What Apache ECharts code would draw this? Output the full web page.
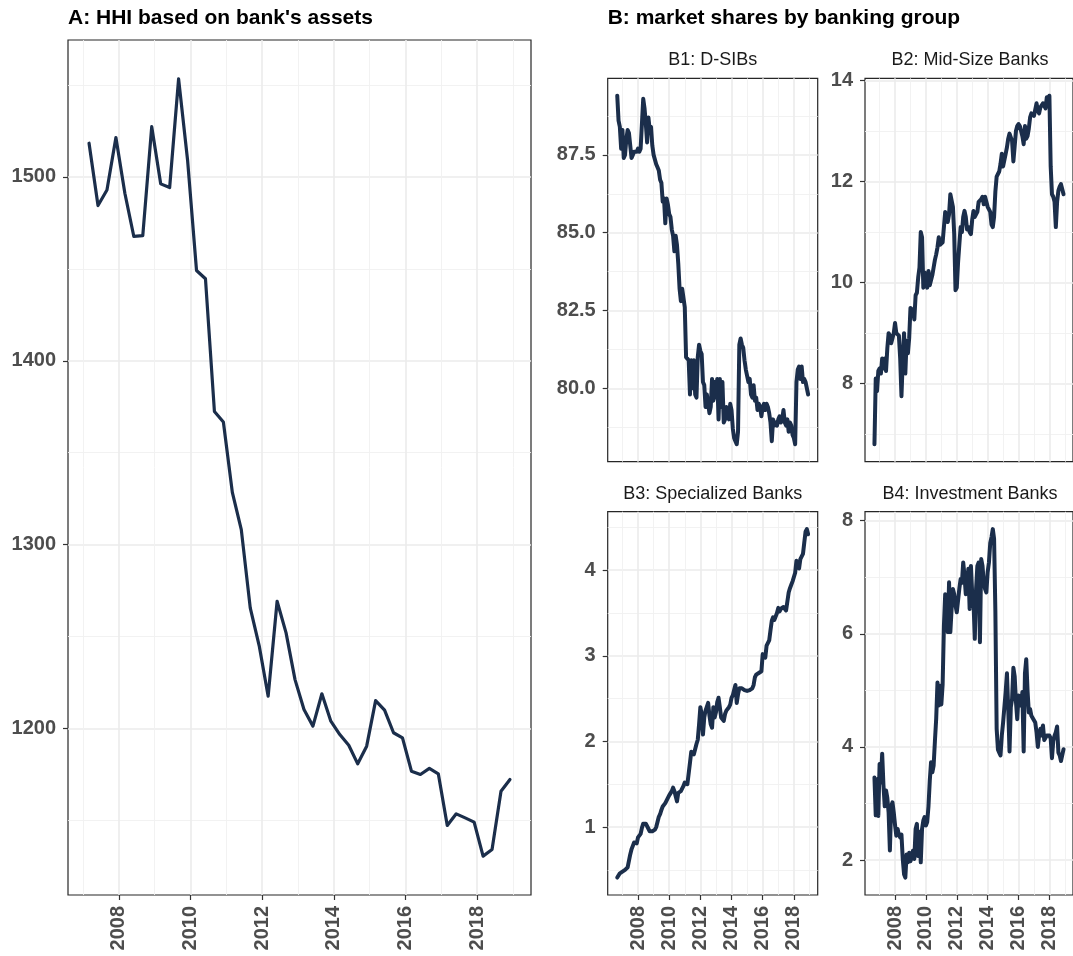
<!DOCTYPE html>
<html><head><meta charset="utf-8">
<script src="https://cdn.jsdelivr.net/npm/echarts@6/dist/echarts.min.js"></script>
<style>html,body{margin:0;padding:0;background:#fff}#c{width:1073px;height:956px}</style>
</head><body><div id="c"></div>
<script>
// ---------- DATA ----------
// Panel A: HHI, quarterly, first observation March 2007
const hhiStart = [2007, 3];
const hhiStepMonths = 3;
const hhiValues = [1518.3,1484.4,1492.9,1521.4,1491.1,1467.6,1468.0,1527.3,1496.2,1494.2,1553.3,1509.2,1449.1,1444.6,1372.4,1366.7,1328.4,1308.2,1265.6,1245.0,1217.6,1269.2,1252.0,1226.6,1210.3,1201.3,1218.9,1204.0,1196.7,1190.9,1180.8,1190.4,1215.2,1210.0,1197.7,1194.9,1176.8,1175.0,1178.3,1175.4,1147.3,1153.6,1151.4,1149.1,1130.6,1134.2,1165.9,1172.3];

// Panel B: market shares, monthly, first observation September 2006
const sharesStart = [2006, 9];
const sharesStepMonths = 1;
const dsibValues = [89.4,88.6,88.4,87.7,88.3,87.4,87.5,88.0,88.3,88.2,
87.8,87.4,87.5,87.6,87.6,87.6,87.7,87.6,87.7,88.5,
89.3,89.0,88.5,87.9,88.7,88.3,88.4,87.8,87.5,87.5,
87.2,87.1,87.0,86.7,86.6,86.0,86.1,85.3,86.1,85.9,
85.6,85.5,85.1,84.9,84.4,84.9,84.6,84.0,83.2,82.8,
83.2,82.9,82.6,81.0,81.0,80.9,79.8,80.9,80.0,80.9,
79.8,79.7,81.0,81.4,81.2,81.1,80.2,80.1,79.4,79.8,
79.5,79.2,79.4,80.3,79.6,80.2,79.7,80.3,79.0,80.3,
79.4,80.2,78.9,79.0,79.4,79.2,79.0,79.5,79.3,78.7,
78.4,78.3,78.2,78.6,81.4,81.6,81.4,81.3,80.9,80.6,
80.4,80.2,80.3,79.8,79.7,80.1,79.6,79.7,79.3,79.5,
79.4,79.1,79.4,79.5,79.3,79.5,79.4,79.2,78.9,78.3,
79.0,78.8,78.9,78.8,79.0,79.1,78.9,79.0,79.3,78.9,
78.8,79.0,78.6,78.9,78.8,78.5,78.4,78.2,80.2,80.6,
80.7,80.3,80.7,80.2,80.3,80.2,80.2,79.8];
const midSizeValues = [6.8,8.1,7.85,8.25,8.3,8.2,8.5,8.3,8.5,8.25,
8.7,9.0,8.95,8.8,8.9,9.0,9.2,9.0,9.0,8.95,
8.5,7.75,8.45,9.0,8.2,8.85,8.6,8.9,9.5,9.5,
9.45,9.27,9.75,9.8,10.1,10.3,11.0,10.9,9.9,10.2,
10.0,9.9,10.23,9.95,9.95,10.15,10.3,10.45,10.56,10.7,
10.9,10.75,10.75,10.8,11.1,11.4,11.3,11.2,11.35,11.75,
11.75,11.5,10.96,9.85,9.9,10.4,10.76,11.1,11.0,11.3,
11.42,11.3,11.05,11.1,11.0,10.96,11.25,11.42,11.3,11.3,
11.4,11.6,11.6,11.65,11.7,11.55,11.7,11.6,11.5,11.5,
11.4,11.15,11.1,11.3,11.8,12.1,12.15,12.2,12.35,12.55,
12.3,12.3,12.55,12.68,12.85,12.95,12.95,12.8,12.4,12.7,
13.0,13.1,13.14,13.1,13.0,12.9,12.74,13.1,12.85,12.9,
13.05,13.27,13.35,13.35,13.3,13.27,13.55,13.4,13.35,13.47,
13.45,13.55,13.55,13.45,13.67,13.62,13.7,12.3,11.75,11.7,
11.6,11.1,11.6,11.82,11.9,11.95,11.85,11.75];
const specializedValues = [0.41,0.43,0.46,0.47,0.48,0.49,0.50,0.51,0.53,0.54,
0.68,0.74,0.78,0.82,0.84,0.81,0.88,0.90,0.92,0.99,
1.04,1.06,1.04,1.02,0.98,0.95,0.95,0.95,0.96,0.97,
1.00,1.06,1.12,1.15,1.20,1.24,1.25,1.28,1.30,1.34,
1.37,1.38,1.42,1.46,1.42,1.36,1.30,1.40,1.40,1.42,
1.44,1.48,1.52,1.50,1.50,1.52,1.75,1.88,1.87,1.85,
1.85,1.97,2.02,2.20,2.40,2.32,2.08,2.28,2.36,2.38,
2.45,2.30,2.20,2.16,2.40,2.28,2.34,2.46,2.51,2.40,
2.28,2.26,2.24,2.32,2.36,2.38,2.40,2.43,2.51,2.54,
2.60,2.66,2.45,2.55,2.62,2.63,2.62,2.61,2.60,2.59,
2.59,2.59,2.60,2.60,2.62,2.66,2.75,2.78,2.79,2.80,
2.79,2.82,3.02,3.04,2.98,3.12,3.12,3.18,3.30,3.41,
3.45,3.42,3.43,3.50,3.56,3.52,3.55,3.56,3.57,3.58,
3.53,3.55,3.74,3.79,3.83,3.87,3.89,3.97,4.11,4.07,
4.02,4.13,4.15,4.19,4.32,4.45,4.48,4.42];
const investmentValues = [3.46,2.79,3.43,2.78,3.70,3.37,3.88,3.32,2.95,3.23,
3.10,2.84,2.17,2.95,3.02,2.84,2.62,2.43,2.55,2.45,
2.40,2.45,2.02,1.75,1.69,2.10,1.96,2.13,1.98,2.05,
2.17,2.02,2.55,2.64,2.07,2.50,1.96,2.55,2.70,2.76,
2.61,2.67,2.95,3.40,3.73,3.55,3.67,4.10,4.50,5.14,
4.73,5.08,4.75,5.10,6.14,6.70,6.30,6.03,6.91,6.03,
6.45,6.79,6.70,6.50,6.38,6.38,6.80,6.97,6.90,7.26,
7.03,6.70,6.90,7.15,6.44,7.20,6.70,6.56,5.91,6.79,
7.20,7.26,5.85,7.32,7.20,6.90,6.79,6.73,7.09,7.26,
7.60,7.71,7.85,7.68,6.40,4.32,3.95,3.90,3.85,4.20,
4.43,4.46,4.97,5.30,4.67,3.92,4.70,4.85,5.40,5.25,
4.80,4.49,4.91,4.80,4.73,4.97,3.92,5.30,5.55,5.00,
4.61,4.67,4.55,4.52,4.47,4.43,4.26,4.00,4.20,4.32,
4.20,4.38,4.12,4.15,4.20,4.17,4.20,4.15,3.80,4.10,
4.20,4.26,4.36,3.90,3.85,3.75,3.78,3.96];

// tick labels
const xMajorTicks = [2008, 2010, 2012, 2014, 2016, 2018];
const xMinorTicks = [2007, 2009, 2011, 2013, 2015, 2017, 2019];
const hhiYMajor = [1200, 1300, 1400, 1500];
const hhiYMinor = [1150, 1250, 1350, 1450, 1550];
const dsibYMajor = [80, 82.5, 85, 87.5];
const dsibYMinor = [78.75, 81.25, 83.75, 86.25, 88.75];
const midYMajor = [8, 10, 12, 14];
const midYMinor = [7, 9, 11, 13];
const specYMajor = [1, 2, 3, 4];
const specYMinor = [0.5, 1.5, 2.5, 3.5, 4.5];
const invYMajor = [2, 4, 6, 8];
const invYMinor = [3, 5, 7];

const titleA = "A: HHI based on bank's assets";
const titleB = "B: market shares by banking group";
const stripTitles = ["B1: D-SIBs", "B2: Mid-Size Banks", "B3: Specialized Banks", "B4: Investment Banks"];

// ---------- BUILD ----------
const FONT = "'Liberation Sans', Arial, Helvetica, sans-serif";
const LINE = '#1b2e4b';

function toPairs(vals, start, step) {
  return vals.map((v, i) => {
    const m = (start[1] - 1) + i * step;
    return [start[0] + m / 12, v];
  });
}
function expand(arr) {
  const mn = Math.min(...arr), mx = Math.max(...arr), d = (mx - mn) * 0.05;
  return [mn - d, mx + d];
}

const panels = [
  { grid: {left: 68, top: 40, width: 463, height: 855}, data: toPairs(hhiValues, hhiStart, hhiStepMonths),
    yMaj: hhiYMajor, yMin: hhiYMinor, xLabels: true, fmt: v => String(v), lw: 3.2 },
  { grid: {left: 607.7, top: 78.3, width: 210, height: 383.4}, data: toPairs(dsibValues, sharesStart, sharesStepMonths),
    yMaj: dsibYMajor, yMin: dsibYMinor, xLabels: false, fmt: v => v.toFixed(1), lw: 4 },
  { grid: {left: 865, top: 78.3, width: 210, height: 383.4}, data: toPairs(midSizeValues, sharesStart, sharesStepMonths),
    yMaj: midYMajor, yMin: midYMinor, xLabels: false, fmt: v => String(v), lw: 4 },
  { grid: {left: 607.7, top: 511.7, width: 210, height: 383.3}, data: toPairs(specializedValues, sharesStart, sharesStepMonths),
    yMaj: specYMajor, yMin: specYMinor, xLabels: true, fmt: v => String(v), lw: 4 },
  { grid: {left: 865, top: 511.7, width: 210, height: 383.3}, data: toPairs(investmentValues, sharesStart, sharesStepMonths),
    yMaj: invYMajor, yMin: invYMinor, xLabels: true, fmt: v => String(v), lw: 4 },
];

const grids = [], xAxes = [], yAxes = [], series = [];
const labelStyle = { fontFamily: FONT, fontSize: 20, fontWeight: 'bold', color: '#4d4d4d' };
const majorSplit = { show: true, lineStyle: { color: '#ebebeb', width: 1.6 } };
const minorSplit = { show: true, lineStyle: { color: '#f1f1f1', width: 0.9 } };

panels.forEach((p, gi) => {
  grids.push(Object.assign({ show: true, borderColor: '#262626', borderWidth: 1.2, backgroundColor: '#fff' }, p.grid));
  const xr = expand(p.data.map(d => d[0]));
  const yr = expand(p.data.map(d => d[1]));
  xAxes.push({
    type: 'value', gridIndex: gi, min: xr[0], max: xr[1], position: 'bottom',
    axisLine: { show: false },
    axisTick: { show: p.xLabels, length: 5, lineStyle: { color: '#333', width: 1.2 }, customValues: xMajorTicks },
    axisLabel: Object.assign({ show: p.xLabels, rotate: 90, margin: 11, customValues: xMajorTicks, formatter: v => String(v) }, labelStyle),
    splitLine: majorSplit
  });
  xAxes.push({
    type: 'value', gridIndex: gi, min: xr[0], max: xr[1], position: 'bottom',
    axisLine: { show: false }, axisLabel: { show: false },
    axisTick: { show: false, customValues: xMinorTicks },
    splitLine: minorSplit
  });
  yAxes.push({
    type: 'value', gridIndex: gi, min: yr[0], max: yr[1], position: 'left',
    axisLine: { show: false },
    axisTick: { show: true, length: 5, lineStyle: { color: '#333', width: 1.2 }, customValues: p.yMaj },
    axisLabel: Object.assign({ show: true, margin: 12, customValues: p.yMaj, formatter: p.fmt }, labelStyle),
    splitLine: majorSplit
  });
  yAxes.push({
    type: 'value', gridIndex: gi, min: yr[0], max: yr[1], position: 'left',
    axisLine: { show: false }, axisLabel: { show: false },
    axisTick: { show: false, customValues: p.yMin },
    splitLine: minorSplit
  });
  series.push({
    type: 'line', xAxisIndex: gi * 2, yAxisIndex: gi * 2, data: p.data,
    showSymbol: false, symbol: 'none', clip: true, z: 5,
    lineStyle: { color: LINE, width: p.lw, join: 'round', cap: 'round' }
  });
});

const textEls = [
  { type: 'text', x: 68, y: 18.5, style: { text: titleA, font: "bold 21px " + FONT, fill: '#000', verticalAlign: 'middle', align: 'left' } },
  { type: 'text', x: 607.7, y: 18.5, style: { text: titleB, font: "bold 21px " + FONT, fill: '#000', verticalAlign: 'middle', align: 'left' } },
];
[[712.7, 60.5], [970, 60.5], [712.7, 494], [970, 494]].forEach((pos, i) => {
  textEls.push({ type: 'text', x: pos[0], y: pos[1], style: { text: stripTitles[i], font: "18px " + FONT, fill: '#1a1a1a', verticalAlign: 'middle', align: 'center' } });
});

const chart = echarts.init(document.getElementById('c'), null, { renderer: 'canvas' });
chart.setOption({
  animation: false,
  backgroundColor: '#ffffff',
  grid: grids, xAxis: xAxes, yAxis: yAxes, series: series,
  graphic: { elements: textEls }
});
</script>
</body></html>
